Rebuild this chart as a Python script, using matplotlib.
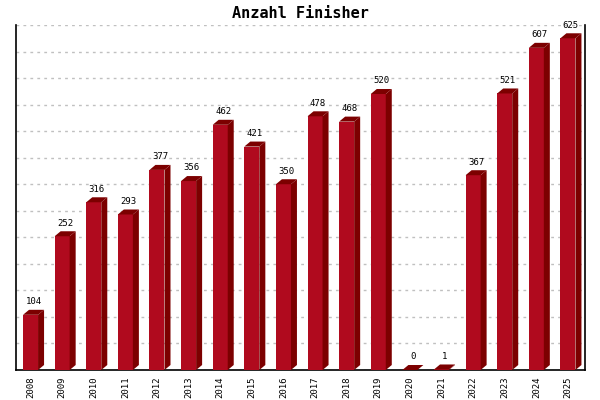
import matplotlib
matplotlib.use("Agg")
import matplotlib.pyplot as plt
from matplotlib.patches import Polygon

years = ["2008", "2009", "2010", "2011", "2012", "2013", "2014", "2015", "2016",
         "2017", "2018", "2019", "2020", "2021", "2022", "2023", "2024", "2025"]
finishers = [104, 252, 316, 293, 377, 356, 462, 421, 350,
             478, 468, 520, 0, 1, 367, 521, 607, 625]

front_color = "#B00A1E"
dark_color = "#7C0000"
mono = "DejaVu Sans Mono"

fig = plt.figure(figsize=(6, 4), dpi=100)
ax = fig.add_axes([16 / 600, 30 / 400, 569 / 600, 345 / 400])

ymax = 650
ax.set_xlim(-0.5, len(years) - 0.5)
ax.set_ylim(0, ymax)

bw = 0.475
off = -0.04
dx = 0.19
dy = 9.4

ax.set_yticks(range(0, ymax + 1, 50))
ax.yaxis.grid(True, color="#C0C0C0", linestyle=(0, (2, 3)), linewidth=1)
ax.set_axisbelow(True)
ax.tick_params(axis="y", left=False, labelleft=False)

xs = list(range(len(years)))
for x, v in zip(xs, finishers):
    x0 = x + off - bw / 2
    x1 = x + off + bw / 2
    ax.add_patch(Polygon([(x0, 0), (x1, 0), (x1, v), (x0, v)], closed=True,
                         facecolor=front_color, edgecolor="none", zorder=3))
    ax.add_patch(Polygon([(x1, 0), (x1 + dx, dy), (x1 + dx, v + dy), (x1, v)], closed=True,
                         facecolor=dark_color, edgecolor="none", zorder=3))
    ax.add_patch(Polygon([(x0, v), (x1, v), (x1 + dx, v + dy), (x0 + dx, v + dy)], closed=True,
                         facecolor=dark_color, edgecolor="none", zorder=3))
    ax.text(x + off + dx / 2, v + dy + 7, str(v), ha="center", va="bottom",
            fontsize=6.5, family=mono, zorder=4)

ax.set_xticks([x + off for x in xs])
ax.set_xticklabels(years, rotation=90, fontsize=6.5, family=mono)
ax.tick_params(axis="x", length=0, pad=5)

ax.spines["top"].set_visible(False)
for s in ["left", "right", "bottom"]:
    ax.spines[s].set_color("black")
    ax.spines[s].set_linewidth(1.2)

fig.text(0.5, 1 - 13 / 400, "Anzahl Finisher", ha="center", va="center",
         fontsize=11, family=mono, fontweight="bold")

fig.savefig("out.png", dpi=100)
